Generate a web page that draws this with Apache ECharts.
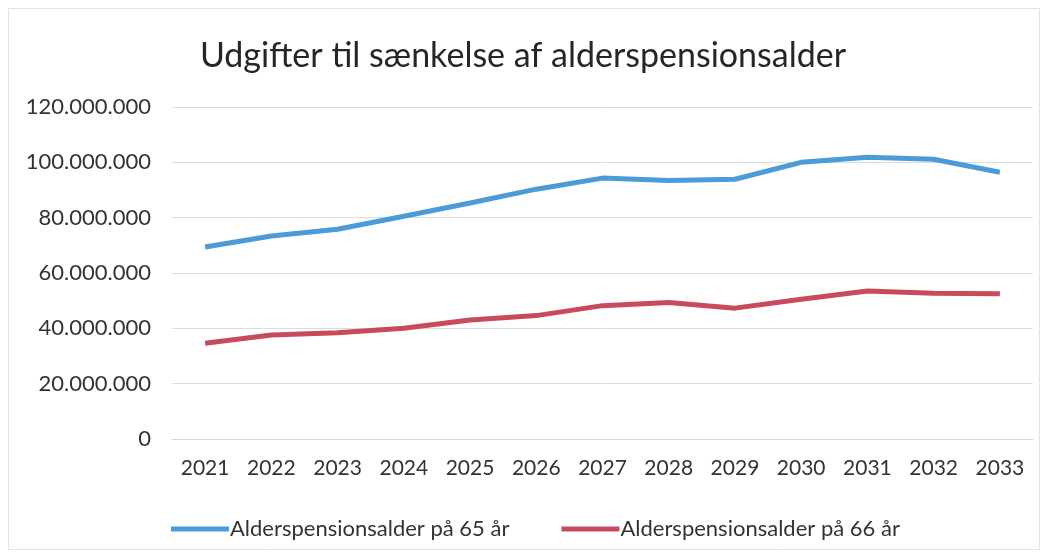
<!DOCTYPE html>
<html><head><meta charset="utf-8">
<script src="https://cdn.jsdelivr.net/npm/echarts@6/dist/echarts.min.js"></script>
<style>html,body{margin:0;padding:0;background:#fff}#c{width:1046px;height:557px}</style>
</head><body><div id="c"></div>
<script>
var years = ['2021','2022','2023','2024','2025','2026','2027','2028','2029','2030','2031','2032','2033'];
var age65 = [69400000,73400000,75800000,80500000,85300000,90300000,94300000,93400000,93900000,100000000,101800000,101100000,96400000];
var age66 = [34600000,37600000,38400000,40000000,43000000,44600000,48200000,49300000,47300000,50500000,53500000,52700000,52500000];
var seriesNames = ['Alderspensionsalder på 65 år','Alderspensionsalder på 66 år'];
var titleText = 'Udgifter til sænkelse af alderspensionsalder';

function fmt(v){ return String(v).replace(/\B(?=(\d{3})+(?!\d))/g,'.'); }

var chart = echarts.init(document.getElementById('c'));
var font = 'Lato, "Open Sans", sans-serif';
chart.setOption({
  backgroundColor:'#fff',
  animation:false,
  textStyle:{fontFamily:font},
  graphic:[{type:'rect',shape:{x:8.5,y:8.5,width:1031,height:541},style:{fill:'none',stroke:'#e2e2e2',lineWidth:1},silent:true}],
  title:{text:titleText,left:'center',top:34,textStyle:{fontFamily:font,fontSize:34,fontWeight:'normal',color:'#262626'}},
  legend:{top:513,left:166,itemWidth:58,itemHeight:5,itemGap:52,icon:'rect',
    textStyle:{fontFamily:font,fontSize:22,color:'#333',padding:[0,0,0,-4]},
    data:seriesNames},
  grid:{left:172,right:13,top:107,bottom:118},
  xAxis:{type:'category',data:years,boundaryGap:true,
    axisLine:{show:true,lineStyle:{color:'#d9d9d9'}},axisTick:{show:false},
    axisLabel:{fontSize:21,color:'#333',margin:19,fontFamily:font}},
  yAxis:{type:'value',min:0,max:120000000,interval:20000000,
    axisLine:{show:false},axisTick:{show:false},
    splitLine:{lineStyle:{color:'#dcdcdc'}},
    axisLabel:{fontSize:22,color:'#333',margin:21,fontFamily:font,formatter:fmt}},
  series:[
    {name:seriesNames[0],type:'line',data:age65,symbol:'none',lineStyle:{width:5,color:'#4a9bd6'},itemStyle:{color:'#4a9bd6'}},
    {name:seriesNames[1],type:'line',data:age66,symbol:'none',lineStyle:{width:5,color:'#c84a5c'},itemStyle:{color:'#c84a5c'}}
  ]
});
</script></body></html>
